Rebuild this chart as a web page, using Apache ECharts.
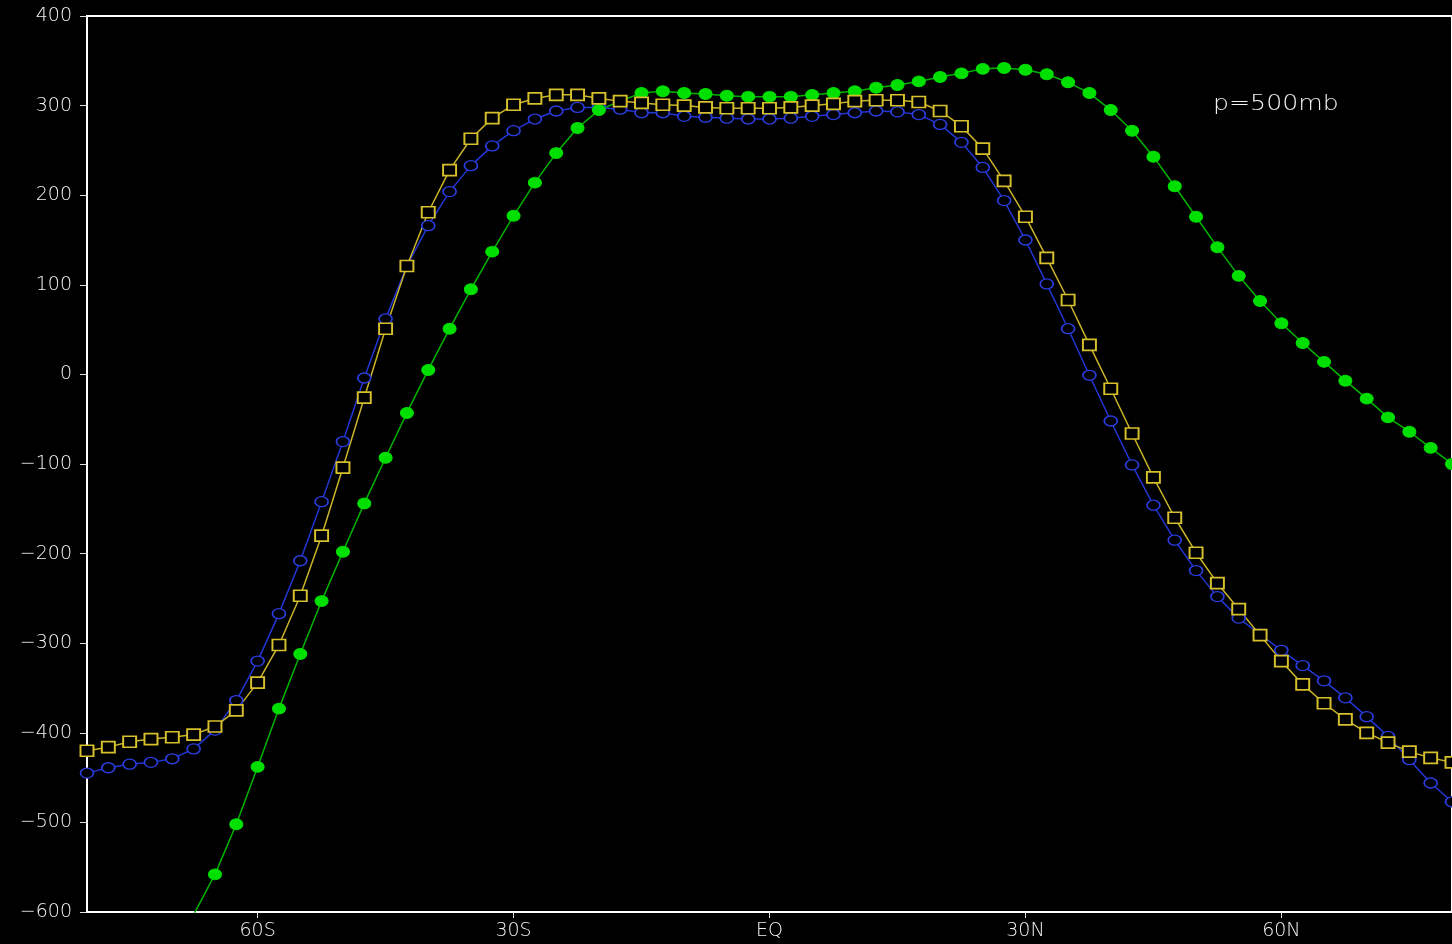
<!DOCTYPE html>
<html>
<head>
<meta charset="utf-8">
<title>p=500mb</title>
<script src="https://cdn.jsdelivr.net/npm/echarts@6/dist/echarts.min.js"></script>
<style>
  html, body { margin: 0; padding: 0; background: #000; }
  #chart { width: 1452px; height: 944px; }
</style>
</head>
<body>
<div id="chart"></div>
<script>
// Latitudes of the sampled points (degrees, south negative)
const lats = [
  -80, -77.5, -75, -72.5, -70, -67.5, -65, -62.5, -60, -57.5,
  -55, -52.5, -50, -47.5, -45, -42.5, -40, -37.5, -35, -32.5,
  -30, -27.5, -25, -22.5, -20, -17.5, -15, -12.5, -10, -7.5,
  -5, -2.5, 0, 2.5, 5, 7.5, 10, 12.5, 15, 17.5,
  20, 22.5, 25, 27.5, 30, 32.5, 35, 37.5, 40, 42.5,
  45, 47.5, 50, 52.5, 55, 57.5, 60, 62.5, 65, 67.5,
  70, 72.5, 75, 77.5, 80
];

// Blue open circles
const blueVals = [
  -445, -439, -435, -433, -429, -418, -397, -364, -320, -267,
  -208, -142, -75, -4, 62, 121, 166, 204, 233, 255,
  272, 285, 294, 298, 298, 296, 292, 292, 288, 287,
  286, 285, 285, 286, 288, 290, 292, 294, 293, 290,
  279, 259, 231, 194, 150, 101, 51, -1, -52, -101,
  -146, -185, -219, -248, -272, -290, -308, -325, -342, -361,
  -382, -404, -430, -456, -477
];

// Green filled circles (first points lie below the plotted range)
const greenVals = [
  null, null, null, null, null, -603, -558, -502, -438, -373,
  -312, -253, -198, -144, -93, -43, 5, 51, 95, 137,
  177, 214, 247, 275, 295, 305, 314, 316, 314, 313,
  311, 310, 310, 310, 312, 314, 316, 320, 323, 327,
  332, 336, 341, 342, 340, 335, 326, 314, 295, 272,
  243, 210, 176, 142, 110, 82, 57, 35, 14, -7,
  -27, -48, -64, -82, -100
];

// Yellow open squares
const yellowVals = [
  -420, -416, -410, -407, -405, -402, -393, -375, -344, -302,
  -247, -180, -104, -26, 51, 121, 181, 228, 263, 286,
  301, 308, 312, 312, 308, 305, 303, 301, 300, 298,
  297, 297, 297, 298, 300, 302, 305, 306, 306, 304,
  294, 277, 252, 216, 176, 130, 83, 33, -16, -66,
  -115, -160, -199, -233, -262, -291, -320, -346, -367, -385,
  -400, -411, -421, -428, -433
];

// Latitude tick positions and their labels
const xTickValues = [-60, -30, 0, 30, 60];
const xTickLabels = ['60S', '30S', 'EQ', '30N', '60N'];

// Level annotation
const levelText = 'p=500mb';

const pairs = vals => lats.map((lat, i) => [lat, vals[i]]);

const ELLIPSE = 'path://M0,5 A5,5 0 1,1 10,5 A5,5 0 1,1 0,5 Z';
const FONT = '"DejaVu Sans", sans-serif';
const TEXT_COLOR = '#f2f2f2';

const chart = echarts.init(document.getElementById('chart'), null, { renderer: 'canvas' });

chart.setOption({
  backgroundColor: '#000',
  animation: false,
  grid: {
    left: 87,
    top: 16,
    width: 1368,
    height: 896,
    show: true,
    borderColor: '#ffffff',
    borderWidth: 2,
    backgroundColor: '#000'
  },
  xAxis: {
    type: 'value',
    min: -80,
    max: 80,
    splitLine: { show: false },
    axisLine: { show: true, onZero: false, lineStyle: { color: '#ffffff', width: 2 } },
    axisTick: {
      show: true,
      length: 6,
      customValues: xTickValues,
      lineStyle: { color: '#e0e0e0', width: 1 }
    },
    axisLabel: {
      customValues: xTickValues,
      formatter: v => xTickLabels[xTickValues.indexOf(v)],
      color: TEXT_COLOR,
      fontFamily: FONT,
      fontWeight: 200,
      fontSize: 19,
      margin: 10
    }
  },
  yAxis: {
    type: 'value',
    min: -600,
    max: 400,
    interval: 100,
    splitLine: { show: false },
    axisLine: { show: true, onZero: false, lineStyle: { color: '#ffffff', width: 2 } },
    axisTick: { show: true, length: 7, lineStyle: { color: '#e0e0e0', width: 1 } },
    axisLabel: {
      color: TEXT_COLOR,
      fontFamily: FONT,
      fontWeight: 200,
      fontSize: 19,
      margin: 15,
      formatter: v => String(v).replace('-', '\u2212')
    }
  },
  graphic: [{
    type: 'text',
    left: 1213,
    top: 94,
    scaleX: 1.2,
    style: {
      text: levelText,
      fill: TEXT_COLOR,
      font: '200 21px ' + FONT
    }
  }],
  series: [
    {
      name: 'blue',
      type: 'line',
      data: pairs(blueVals),
      clip: true,
      symbol: ELLIPSE,
      symbolSize: [13, 10],
      showAllSymbol: true,
      lineStyle: { color: '#2236d4', width: 1.5 },
      itemStyle: { color: '#000', borderColor: '#2a3ee0', borderWidth: 1.5 }
    },
    {
      name: 'green',
      type: 'line',
      data: pairs(greenVals),
      clip: true,
      symbol: ELLIPSE,
      symbolSize: [13, 11],
      showAllSymbol: true,
      lineStyle: { color: '#00b400', width: 1.5 },
      itemStyle: { color: '#00e000', borderColor: '#00e000', borderWidth: 1 }
    },
    {
      name: 'yellow',
      type: 'line',
      data: pairs(yellowVals),
      clip: true,
      symbol: 'rect',
      symbolSize: [13, 11],
      showAllSymbol: true,
      lineStyle: { color: '#cbb42a', width: 1.5 },
      itemStyle: { color: '#000', borderColor: '#d6c02c', borderWidth: 1.8 }
    }
  ]
});
</script>
</body>
</html>
